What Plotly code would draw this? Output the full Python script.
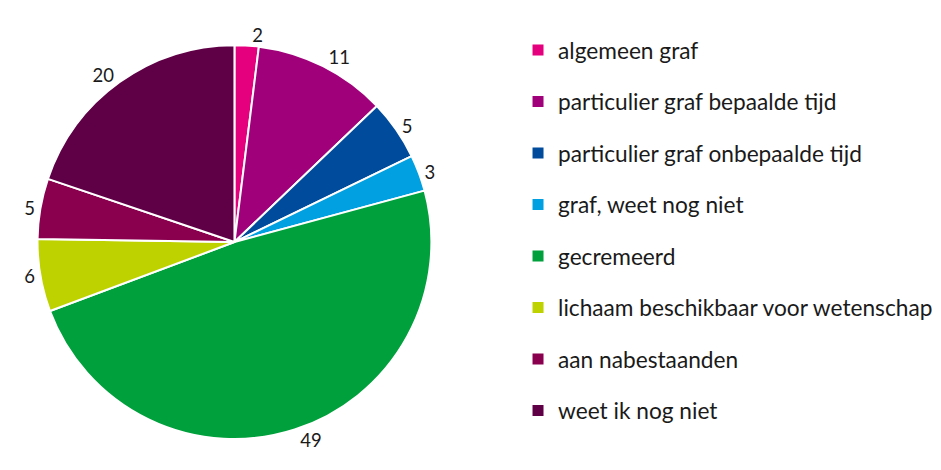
import plotly.graph_objects as go

labels = ["algemeen graf", "particulier graf bepaalde tijd", "particulier graf onbepaalde tijd",
          "graf, weet nog niet", "gecremeerd", "lichaam beschikbaar voor wetenschap",
          "aan nabestaanden", "weet ik nog niet"]
values = [2, 11, 5, 3, 49, 6, 5, 20]
colors = ["#E5007D", "#A0007A", "#004B9B", "#00A0E1", "#00A03C", "#BED200", "#8A004F", "#5F0046"]

fig = go.Figure(go.Pie(
    labels=labels,
    values=values,
    sort=False,
    direction="clockwise",
    rotation=0,
    marker=dict(colors=colors, line=dict(color="white", width=2)),
    textinfo="value",
    textposition="outside",
    textfont=dict(size=18.5, color="#1a1a1a"),
    domain=dict(x=[0.0313, 0.450], y=[0.083, 0.921]),
    hoverinfo="label+value",
    showlegend=False,
))

# legend entries (one group each so the vertical gap can be set)
for i, (lab, col) in enumerate(zip(labels, colors)):
    fig.add_trace(go.Scatter(
        x=[None], y=[None], mode="markers", name=lab,
        marker=dict(symbol="square", size=11, color=col),
        legendgroup="g%d" % i, showlegend=True, hoverinfo="skip",
    ))

fig.update_layout(
    width=941, height=470,
    margin=dict(l=0, r=0, t=0, b=0),
    paper_bgcolor="white",
    plot_bgcolor="white",
    font=dict(family="Lato, sans-serif", color="#1a1a1a"),
    showlegend=True,
    xaxis=dict(visible=False, domain=[0.9, 1.0]),
    yaxis=dict(visible=False),
    legend=dict(x=0.542, y=0.956, xanchor="left", yanchor="top",
                font=dict(size=22.7, color="#1a1a1a"),
                itemwidth=30, tracegroupgap=19, bgcolor="rgba(0,0,0,0)"),
)

fig.write_html("out.html")
